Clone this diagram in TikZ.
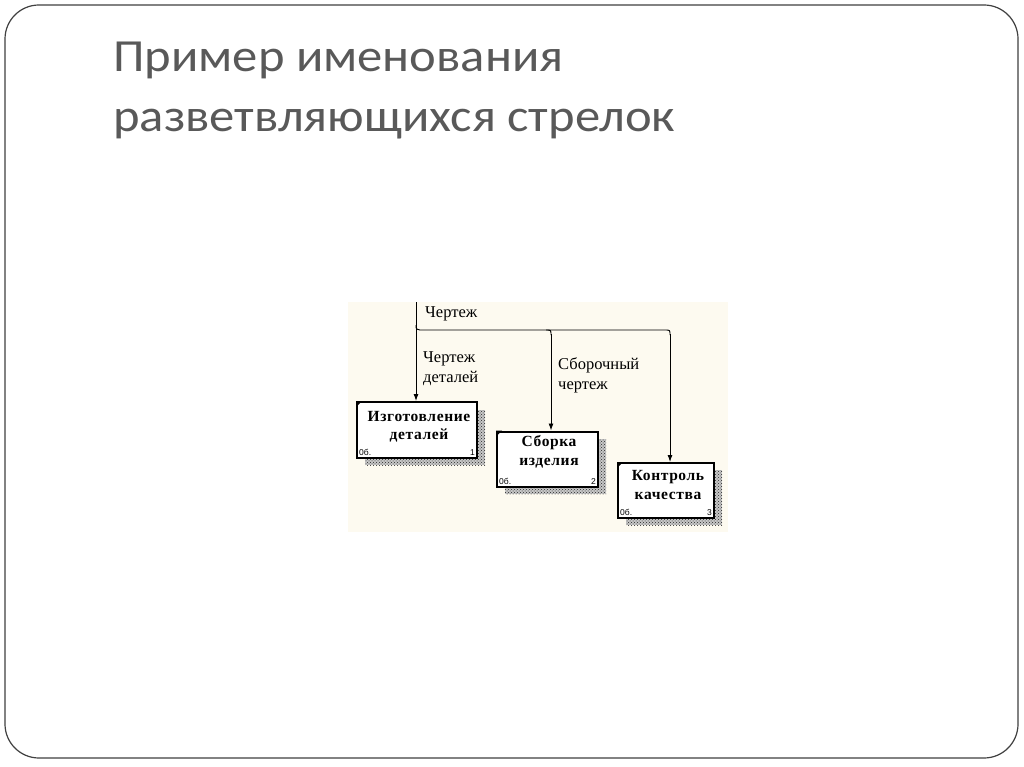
\documentclass[tikz,border=0pt]{standalone}
\usepackage{fontspec}
\setmainfont{Liberation Serif}
\newfontfamily\titlefont[FakeStretch=1.1]{Carlito}
\newfontfamily\tinyfont{Liberation Sans}
\newfontfamily\boxfont[LetterSpace=4]{Liberation Serif}
\usetikzlibrary{arrows.meta,patterns}
\definecolor{titlegray}{HTML}{595959}
\definecolor{framegray}{HTML}{404040}
\definecolor{cream}{HTML}{FDFAF0}
\tikzset{
  conn/.style={draw=black, line width=0.9pt},
  arr/.style={conn, -{Latex[length=7pt,width=5pt]}},
  lbl/.style={font=\fontsize{16.5}{20}\selectfont, anchor=west, inner sep=0pt, align=left},
  funcbox/.style={draw=black, line width=2pt, fill=white, inner sep=0pt},
  boxtext/.style={font=\boxfont\bfseries\fontsize{15.5}{18.5}\selectfont, align=center, inner sep=0pt},
  shadowbox/.style={fill=black!22, postaction={pattern=crosshatch dots, pattern color=black!85}},
  small/.style={font=\tinyfont\fontsize{8.5}{9}\selectfont, inner sep=0pt},
  titletext/.style={anchor=base west, inner sep=0pt, text=titlegray, font=\titlefont\fontsize{46}{60}\selectfont}
}
\begin{document}
\begin{tikzpicture}[x=1pt,y=-1pt]
\useasboundingbox (0,0) rectangle (1024,767);
\fill[white] (0,0) rectangle (1024,767);
\draw[framegray, line width=1.2pt, rounded corners=34pt] (5,5) rectangle (1018,758);
\node[titletext] (t1) at (113,72) {Пример именования};
\node[titletext] (t2) at (113,132) {разветвляющихся стрелок};
% diagram background
\fill[cream] (348,302) rectangle (728,532);
% shadows
\path[shadowbox] (365,410) rectangle (485,465);
\path[shadowbox] (505,439) rectangle (606,494);
\path[shadowbox] (626,470) rectangle (722,525);
% boxes
\node[funcbox, minimum width=120pt, minimum height=56pt] (b1) at (417,430) {};
\node[funcbox, minimum width=101pt, minimum height=55pt] (b2) at (547.5,459) {};
\node[funcbox, minimum width=96pt, minimum height=55pt] (b3) at (666,490.5) {};
\node[boxtext] (b1t) at (419,427) {Изготовление\\деталей};
\node[boxtext] (b2t) at (549,452) {Сборка\\изделия};
\node[boxtext] (b3t) at (668,485) {Контроль\\качества};
\foreach \b/\n in {b1/1,b2/2,b3/3}{
  \fill[black] (\b.north west) -- ++(6,0) -- ++(-6,6) -- cycle;
  \node[small, anchor=south west] (\b c) at ([xshift=3pt,yshift=3pt]\b.south west) {0б.};
  \node[small, anchor=south east] (\b n) at ([xshift=-3pt,yshift=3pt]\b.south east) {\n};
}
% connectors
\coordinate (src) at (416,302);
\coordinate (j1) at (416,325);
\coordinate (k2) at (551,330);
\coordinate (k3) at (670,330);
\draw[arr] (src) -- (b1.north -| src);
\draw[conn] (j1) .. controls (416,329) .. (420,330) -- (546,330) .. controls (551,330) .. (551,335);
\draw[conn] (546,330) -- (665,330) .. controls (670,330) .. (670,335);
\draw[arr] (551,334) -- (b2.north -| k2);
\draw[arr] (670,334) -- (b3.north -| k3);
% labels
\node[lbl] (l1) at (425,314) {Чертеж};
\node[lbl, anchor=north west] (l2) at (423,351) {Чертеж\\деталей};
\node[lbl, anchor=north west] (l3) at (558,357) {Сборочный\\чертеж};
\end{tikzpicture}
\end{document}
